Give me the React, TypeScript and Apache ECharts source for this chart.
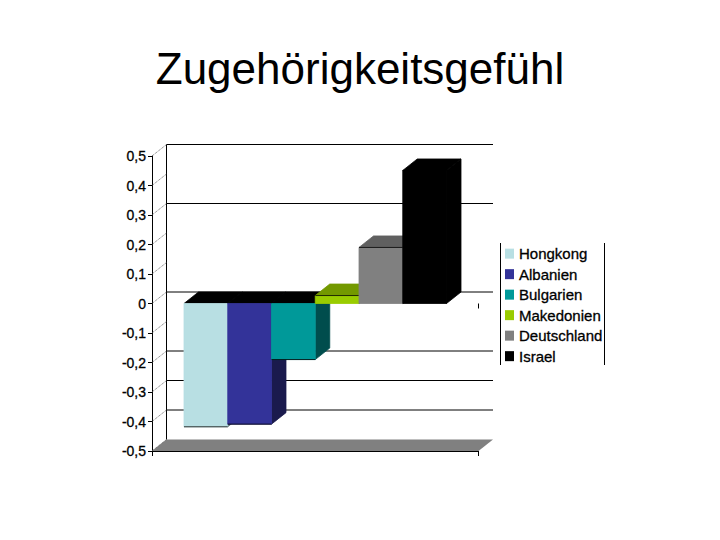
import React, { useEffect, useRef } from "react";
import * as echarts from "echarts";

const titleText = "Zugehörigkeitsgefühl";
const categories = ["Gefühl"];
const seriesNames = ["Hongkong", "Albanien", "Bulgarien", "Makedonien", "Deutschland", "Israel"];
const seriesValues = [-0.418, -0.409, -0.19, 0.027, 0.19, 0.451];
const frontColors = ["#b8dfe3", "#333399", "#009999", "#99cc00", "#808080", "#000000"];
const topColors = ["#000000", "#000000", "#000000", "#739900", "#606060", "#000000"];
const sideColors = ["#5c7072", "#1a1a4d", "#004d4d", "#4d6600", "#404040", "#000000"];
const backGridValues = [0.5, 0.3, 0, -0.2, -0.3, -0.4];
const tickValues = [0.5, 0.4, 0.3, 0.2, 0.1, 0, -0.1, -0.2, -0.3, -0.4, -0.5];

const DX = 14.5;
const DY = 11.5;
const BAR_SHARE = 0.134;

const fmt = (v: number) => String(Math.round(v * 10) / 10).replace(".", ",");

export default function App() {
  const ref = useRef<HTMLDivElement>(null);
  useEffect(() => {
    const chart = echarts.init(ref.current!, undefined, { renderer: "svg" });
    const barSeries = seriesNames.map((name, i) => ({
      type: "custom",
      name,
      z: 5 + i,
      itemStyle: { color: frontColors[i] },
      encode: { x: 0, y: 1 },
      data: [[0, seriesValues[i]]],
      renderItem: (_p: any, api: any) => {
        const [cx, yv] = api.coord([api.value(0), api.value(1)]);
        const [, y0] = api.coord([0, 0]);
        const w = api.size([1, 0])[0] * BAR_SHARE;
        const x1 = cx + (i - 3) * w;
        const x2 = x1 + w;
        const yTop = Math.min(yv, y0);
        const yBot = Math.max(yv, y0);
        const poly = (points: number[][], fill: string) => ({
          type: "polygon",
          shape: { points },
          style: { fill, stroke: fill, lineWidth: 0.8, lineJoin: "round" },
        });
        return {
          type: "group",
          children: [
            poly([[x2, yTop], [x2 + DX, yTop - DY], [x2 + DX, yBot - DY], [x2, yBot]], sideColors[i]),
            poly([[x1, yTop], [x1 + DX, yTop - DY], [x2 + DX, yTop - DY], [x2, yTop]], topColors[i]),
            poly([[x1, yTop], [x2, yTop], [x2, yBot], [x1, yBot]], frontColors[i]),
            {
              type: "line",
              shape: { x1, y1: yv, x2, y2: yv },
              style: { stroke: "#000", lineWidth: 0.8 },
            },
          ],
        };
      },
    }));

    const frameEnds = (api: any) => {
      const [xL, yT] = api.coord([0, 0.5]);
      const [, yB] = api.coord([0, -0.5]);
      const w = api.size([1, 0])[0];
      const left = xL - w / 2;
      return { left, right: left + w, yT, yB };
    };

    const option: any = {
      animation: false,
      backgroundColor: "#ffffff",
      title: {
        text: titleText,
        left: "center",
        top: 41,
        textStyle: { fontFamily: "Liberation Sans", fontSize: 44, fontWeight: "normal", color: "#000" },
      },
      grid: { left: 152, width: 326.5, top: 156, height: 295 },
      legend: {
        orient: "vertical",
        left: 505,
        top: 246,
        padding: 0,
        itemWidth: 9,
        itemHeight: 10,
        itemGap: 5.2,
        icon: "rect",
        data: seriesNames.map((name, i) => ({ name, itemStyle: { color: frontColors[i] } })),
        textStyle: {
          fontFamily: "Liberation Sans",
          fontSize: 15,
          color: "#000",
          textBorderColor: "#000",
          textBorderWidth: 0.3,
        },
      },
      xAxis: {
        type: "category",
        data: categories,
        axisLine: { onZero: false, lineStyle: { color: "#000", width: 1 } },
        axisTick: { show: true, length: 5, lineStyle: { color: "#000" } },
        axisLabel: { show: false },
      },
      yAxis: {
        type: "value",
        min: -0.5,
        max: 0.5,
        interval: 0.1,
        axisLine: { show: true, lineStyle: { color: "#000", width: 1 } },
        axisTick: { show: true, length: 4, lineStyle: { color: "#000" } },
        splitLine: { show: false },
        axisLabel: {
          margin: 6,
          formatter: fmt,
          fontFamily: "Liberation Sans",
          fontSize: 14,
          color: "#000",
          textBorderColor: "#000",
          textBorderWidth: 0.3,
        },
      },
      graphic: [
        { type: "line", shape: { x1: 500.5, y1: 243, x2: 500.5, y2: 365 }, style: { stroke: "#000", lineWidth: 1 } },
        { type: "line", shape: { x1: 604.5, y1: 243, x2: 604.5, y2: 365 }, style: { stroke: "#000", lineWidth: 1 } },
      ],
      series: [
        {
          type: "custom",
          name: "Boden",
          z: 1,
          encode: { x: 0, y: 1 },
          data: [[0, -0.5]],
          renderItem: (_p: any, api: any) => {
            const { left, right, yT, yB } = frameEnds(api);
            const [, y0] = api.coord([0, 0]);
            return {
              type: "group",
              children: [
                {
                  type: "polygon",
                  shape: { points: [[left, yB], [right, yB], [right + DX, yB - DY], [left + DX, yB - DY]] },
                  style: { fill: "#808080" },
                },
                {
                  type: "line",
                  shape: { x1: left + DX, y1: yT - DY, x2: left + DX, y2: yB - DY },
                  style: { stroke: "#000", lineWidth: 1 },
                },
                {
                  type: "line",
                  shape: { x1: right, y1: y0, x2: right, y2: y0 + 5 },
                  style: { stroke: "#000", lineWidth: 1 },
                },
              ],
            };
          },
        },
        {
          type: "custom",
          name: "Gitter",
          z: 2,
          encode: { x: 0, y: 1 },
          data: backGridValues.map((v) => [0, v]),
          renderItem: (_p: any, api: any) => {
            const { left, right } = frameEnds(api);
            const [, y] = api.coord([0, api.value(1)]);
            return {
              type: "line",
              shape: { x1: left + DX, y1: y - DY, x2: right + DX, y2: y - DY },
              style: { stroke: "#000", lineWidth: 1 },
            };
          },
        },
        {
          type: "custom",
          name: "Wand",
          z: 2,
          encode: { x: 0, y: 1 },
          data: tickValues.map((v) => [0, v]),
          renderItem: (_p: any, api: any) => {
            const { left } = frameEnds(api);
            const [, y] = api.coord([0, api.value(1)]);
            return {
              type: "line",
              shape: { x1: left, y1: y, x2: left + DX, y2: y - DY },
              style: { stroke: "#555", lineWidth: 0.6, lineDash: [3, 1] },
            };
          },
        },
        ...barSeries,
      ],
    };
    chart.setOption(option);
    return () => chart.dispose();
  }, []);
  return <div ref={ref} style={{ position: "fixed", left: 0, top: 0, width: 720, height: 540 }} />;
}
